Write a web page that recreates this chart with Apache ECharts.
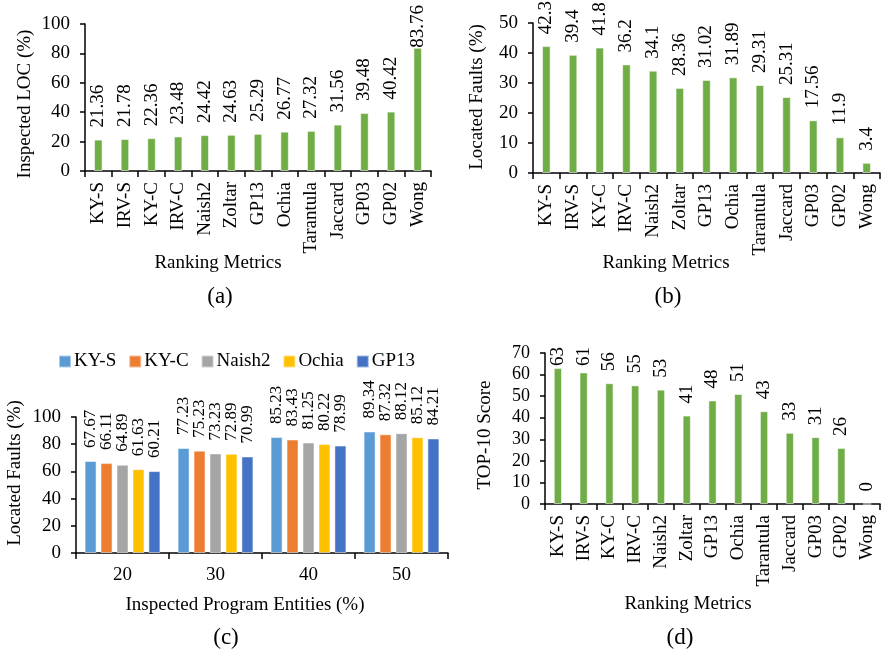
<!DOCTYPE html>
<html>
<head>
<meta charset="utf-8">
<script src="https://cdn.jsdelivr.net/npm/echarts@6/dist/echarts.min.js"></script>
<style>
html,body{margin:0;padding:0;background:#fff;}
#main{width:881px;height:656px;}
</style>
</head>
<body>
<div id="main"></div>
<script>
// ---- Data ----
var metrics = ['KY-S','IRV-S','KY-C','IRV-C','Naish2','Zoltar','GP13','Ochia','Tarantula','Jaccard','GP03','GP02','Wong'];
var inspectedLOC = [21.36,21.78,22.36,23.48,24.42,24.63,25.29,26.77,27.32,31.56,39.48,40.42,83.76];
var locatedFaults = [42.3,39.4,41.8,36.2,34.1,28.36,31.02,31.89,29.31,25.31,17.56,11.9,3.4];
var top10Score = [63,61,56,55,53,41,48,51,43,33,31,26,0];
var entities = ['20','30','40','50'];
var seriesNamesC = ['KY-S','KY-C','Naish2','Ochia','GP13'];
var kyS = [67.67,77.23,85.23,89.34];
var kyC = [66.11,75.23,83.43,87.32];
var naish2 = [64.89,73.23,81.25,88.12];
var ochia = [61.63,72.89,80.22,85.12];
var gp13 = [60.21,70.99,78.99,84.21];

// ---- Styles ----
var FONT = '"Liberation Serif", "Times New Roman", serif';
var GREEN = '#70AD47';
var colorsC = ['#5B9BD5','#ED7D31','#A5A5A5','#FFC000','#4472C4'];

function clampTop(minY){
  return function(p){
    var r = p.labelRect;
    if (r.y < minY) {
      return { x: r.x + r.width/2, y: minY + r.height };
    }
  };
}

function yAx(idx, max, interval, fs){
  return {
    type:'value', gridIndex: idx, min:0, max:max, interval:interval,
    axisLine:{show:true, lineStyle:{color:'#000', width:1.5}},
    axisTick:{show:true, length:5, lineStyle:{color:'#000', width:1.5}},
    splitLine:{show:false},
    axisLabel:{fontFamily:FONT, fontSize:fs, color:'#000', margin:15}
  };
}
function xAxCat(idx, data, rot){
  return {
    type:'category', gridIndex: idx, data:data,
    axisLine:{show:true, lineStyle:{color:'#000', width:1.5}},
    axisTick:{show:true, length:6, interval:0, alignWithLabel:false, lineStyle:{color:'#000', width:1.5}},
    axisLabel:{fontFamily:FONT, fontSize:19, color:'#000', interval:0, rotate:rot, margin: rot ? 11 : 13}
  };
}
function greenSeries(idx, data, minY, dist){
  return {
    type:'bar', xAxisIndex:idx, yAxisIndex:idx, data:data, barWidth:'32%',
    itemStyle:{color:GREEN, borderColor:'rgba(255,255,255,0.55)', borderWidth:1},
    label:{show:true, position:'top', rotate:90, align:'left', verticalAlign:'middle', distance:dist,
      fontFamily:FONT, fontSize:19, color:'#000'},
    labelLayout: clampTop(minY),
    animation:false
  };
}

var seriesC = [kyS, kyC, naish2, ochia, gp13].map(function(d, i){
  return {
    type:'bar', name:seriesNamesC[i], xAxisIndex:2, yAxisIndex:2, data:d,
    barWidth:12, barGap:'33%',
    itemStyle:{color:colorsC[i], borderColor:'rgba(255,255,255,0.5)', borderWidth:1},
    label:{show:true, position:'top', rotate:90, align:'left', verticalAlign:'middle', distance:13,
      fontFamily:FONT, fontSize:17, color:'#000'},
    animation:false
  };
});

function txt(x, y, text, size, rot){
  return {type:'text', x:x, y:y, rotation: rot ? Math.PI/2 : 0,
    style:{text:text, font: size + 'px ' + FONT, fill:'#000', textAlign:'center', textVerticalAlign:'middle'}};
}

var option = {
  backgroundColor:'#fff',
  animation:false,
  grid:[
    {left:85, top:24, width:346, height:147},
    {left:533, top:23, width:347, height:150},
    {left:76, top:417, width:372, height:136},
    {left:545, top:353, width:335, height:151}
  ],
  legend:{
    data:seriesNamesC, left:53, top:347, itemWidth:12, itemHeight:12, itemGap:12,
    icon:'rect', textStyle:{fontFamily:FONT, fontSize:19, color:'#000', padding:[0,0,0,-2]}
  },
  xAxis:[ xAxCat(0, metrics, 90), xAxCat(1, metrics, 90), xAxCat(2, entities, 0), xAxCat(3, metrics, 90) ],
  yAxis:[ yAx(0,100,20,19), yAx(1,50,10,19), yAx(2,100,20,19), yAx(3,70,10,18) ],
  series:[
    greenSeries(0, inspectedLOC, 5, 12),
    greenSeries(1, locatedFaults, 1, 12)
  ].concat(seriesC).concat([ greenSeries(3, top10Score, 347, 12) ]),
  graphic:[
    txt(25, 104, 'Inspected LOC (%)', 19, true),
    txt(477, 97, 'Located Faults (%)', 19, true),
    txt(15, 473, 'Located Faults (%)', 19, true),
    txt(485, 435, 'TOP-10 Score', 19, true),
    txt(218, 263, 'Ranking Metrics', 19),
    txt(666, 263, 'Ranking Metrics', 19),
    txt(245, 605, 'Inspected Program Entities (%)', 19),
    txt(688, 604, 'Ranking Metrics', 19),
    txt(220, 297, '(a)', 23),
    txt(668, 297, '(b)', 23),
    txt(226, 638, '(c)', 23),
    txt(680, 638, '(d)', 23)
  ]
};
var chart = echarts.init(document.getElementById('main'), null, {renderer:'canvas'});
chart.setOption(option);
</script>
</body>
</html>
